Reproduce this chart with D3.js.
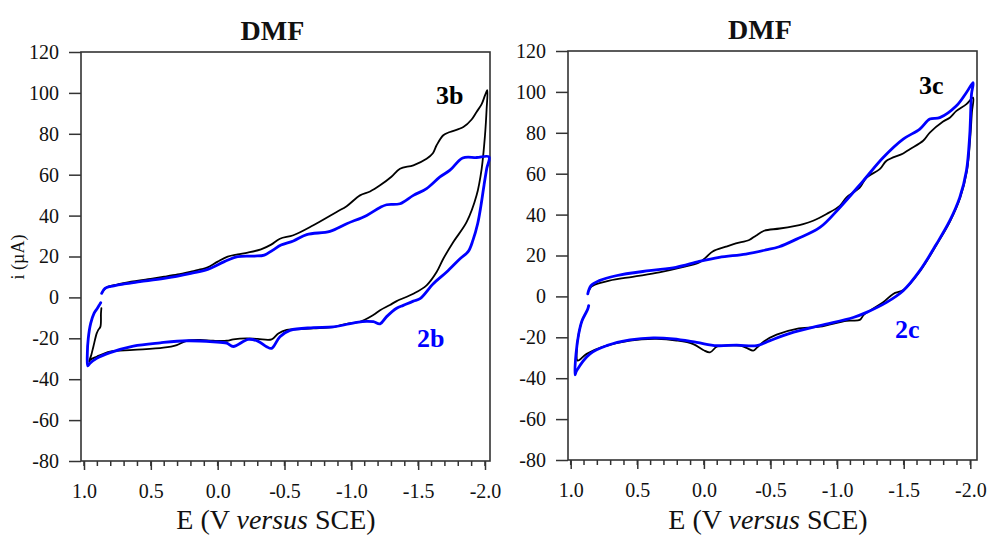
<!DOCTYPE html>
<html>
<head>
<meta charset="utf-8">
<script src="https://cdn.jsdelivr.net/npm/d3@7"></script>
<style>
  html, body { margin: 0; padding: 0; background: #fff; }
  svg { display: block; }
  text { font-family: "Liberation Serif", "Times New Roman", serif; fill: #111; }
</style>
</head>
<body>
<svg id="chart" width="987" height="536"></svg>
<script>
// Cyclic voltammograms in DMF: potential E (V vs SCE) and current i (µA)
// Each voltammogram: forward scan to -2.0 V, return scan, then the tail near +1.0 V.

const yTickValues = [120, 100, 80, 60, 40, 20, 0, -20, -40, -60, -80];
const xTickValues = [1.0, 0.5, 0.0, -0.5, -1.0, -1.5, -2.0];
const xTickLabels = ["1.0", "0.5", "0.0", "-0.5", "-1.0", "-1.5", "-2.0"];

// Left panel, compound 3b (black)
const cv3b = [
  [0.862, 2.6], [0.84, 4.4], [0.823, 5.2], [0.75, 6.3], [0.648, 7.7], [0.52, 8.9], [0.40, 10.1],
  [0.30, 11.2], [0.20, 12.6], [0.12, 13.8], [0.075, 14.7], [0.0, 17.5], [-0.075, 19.9], [-0.15, 21.0],
  [-0.225, 21.9], [-0.324, 23.5], [-0.40, 25.8], [-0.466, 28.7], [-0.566, 30.4], [-0.716, 35.3],
  [-0.89, 41.8], [-0.965, 44.6], [-1.065, 49.9], [-1.14, 51.8], [-1.215, 54.8], [-1.30, 59.0],
  [-1.364, 62.9], [-1.464, 64.6], [-1.563, 67.8], [-1.61, 70.5], [-1.638, 74.4], [-1.688, 79.3],
  [-1.738, 80.9], [-1.838, 83.3], [-1.90, 87.0], [-1.937, 90.7], [-1.975, 94.5], [-2.0, 98.8], [-2.017, 101.3],
  [-2.012, 92.0], [-2.0, 79.3], [-1.975, 62.9], [-1.937, 49.9], [-1.863, 36.9], [-1.763, 27.1],
  [-1.688, 18.9], [-1.638, 12.4], [-1.563, 5.9], [-1.464, 1.8], [-1.339, -1.8], [-1.289, -3.7],
  [-1.215, -6.3], [-1.164, -8.6], [-1.065, -11.9], [-0.965, -12.9], [-0.865, -14.5], [-0.716, -15.1],
  [-0.566, -15.6], [-0.516, -15.9], [-0.454, -17.6], [-0.404, -20.5], [-0.30, -20.3], [-0.217, -20.0],
  [-0.117, -20.5], [-0.068, -21.2], [0.033, -21.2], [0.132, -20.8], [0.232, -21.2], [0.306, -23.3],
  [0.406, -24.6], [0.631, -25.7], [0.805, -26.5], [0.905, -29.0], [0.955, -30.6], [0.962, -31.4],
  [0.945, -28.0], [0.93, -24.1], [0.905, -17.6], [0.893, -15.9], [0.877, -14.3], [0.873, -7.8], [0.87, -5.3]
];

// Left panel, compound 2b (blue)
const cv2b = [
  [0.868, 2.0], [0.843, 4.4], [0.80, 5.4], [0.70, 6.6], [0.581, 7.7], [0.40, 9.3], [0.20, 11.8],
  [0.075, 13.7], [-0.05, 17.5], [-0.15, 19.9], [-0.274, 20.2], [-0.349, 20.7], [-0.41, 23.0],
  [-0.474, 25.6], [-0.566, 27.6], [-0.666, 30.7], [-0.84, 32.3], [-0.965, 36.0], [-1.115, 40.1],
  [-1.215, 44.0], [-1.264, 45.3], [-1.364, 45.8], [-1.464, 49.9], [-1.563, 53.2], [-1.663, 58.9],
  [-1.738, 62.2], [-1.833, 68.2], [-1.937, 68.4], [-2.03, 68.7],
  [-2.013, 63.0], [-1.993, 55.0], [-1.97, 45.0], [-1.945, 36.0], [-1.91, 28.0], [-1.875, 22.5],
  [-1.813, 18.9], [-1.713, 12.4], [-1.613, 6.7], [-1.514, -0.6], [-1.464, -1.8], [-1.389, -3.9],
  [-1.339, -5.3], [-1.264, -9.4], [-1.215, -12.9], [-1.165, -11.9], [-1.115, -11.7], [-1.04, -12.2],
  [-0.865, -14.4], [-0.716, -14.8], [-0.541, -16.1], [-0.466, -19.2], [-0.404, -24.9], [-0.366, -24.1],
  [-0.304, -21.5], [-0.229, -20.5], [-0.117, -24.0], [-0.068, -22.4], [0.033, -21.7], [0.232, -21.2],
  [0.43, -22.2], [0.631, -23.8], [0.805, -27.0], [0.905, -29.8], [0.955, -32.2], [0.972, -33.5],
  [0.975, -27.3], [0.968, -20.0], [0.95, -12.7], [0.925, -7.8], [0.90, -5.3], [0.885, -3.7], [0.875, -2.6]
];

// Right panel, compound 3c (black)
const cv3c = [
  [0.862, 3.0], [0.845, 4.8], [0.823, 5.6], [0.71, 7.7], [0.535, 9.6], [0.335, 11.7], [0.185, 13.9],
  [0.035, 16.6], [-0.015, 19.1], [-0.066, 22.0], [-0.165, 24.3], [-0.24, 25.9], [-0.34, 27.6],
  [-0.39, 29.7], [-0.453, 32.1], [-0.57, 33.2], [-0.745, 35.4], [-0.82, 37.0], [-0.921, 40.3],
  [-1.02, 44.3], [-1.071, 48.4], [-1.17, 53.2], [-1.221, 58.1], [-1.32, 62.2], [-1.371, 66.3],
  [-1.496, 69.9], [-1.546, 72.0], [-1.646, 76.1], [-1.696, 80.1], [-1.796, 85.5], [-1.846, 87.4],
  [-1.896, 90.7], [-1.971, 94.0], [-2.021, 97.2],
  [-2.012, 90.0], [-2.0, 78.0], [-1.975, 61.4], [-1.925, 48.4], [-1.85, 37.0], [-1.75, 25.6],
  [-1.625, 12.6], [-1.5, 3.2], [-1.421, 1.2], [-1.346, -2.9], [-1.246, -7.0], [-1.2, -9.0],
  [-1.17, -11.5], [-1.071, -11.9], [-0.871, -14.8], [-0.696, -15.9], [-0.546, -18.7], [-0.45, -22.0],
  [-0.396, -25.2], [-0.37, -26.5], [-0.32, -25.2], [-0.27, -24.1], [-0.145, -24.1], [-0.096, -24.6],
  [-0.045, -27.4], [0.005, -26.2], [0.08, -23.3], [0.205, -21.6], [0.355, -20.8], [0.555, -21.6],
  [0.755, -24.6], [0.88, -28.1], [0.948, -31.4],
  [0.953, -24.9], [0.94, -18.4], [0.915, -11.9], [0.885, -8.0]
];

// Right panel, compound 2c (blue)
const cv2c = [
  [0.872, 1.2], [0.848, 5.2], [0.785, 7.7], [0.66, 10.1], [0.41, 12.6], [0.21, 14.2], [0.035, 17.1],
  [-0.115, 19.1], [-0.315, 20.7], [-0.465, 22.7], [-0.565, 24.3], [-0.696, 28.0], [-0.871, 33.7],
  [-1.021, 43.5], [-1.196, 56.5], [-1.346, 67.9], [-1.496, 76.9], [-1.621, 81.8], [-1.696, 86.7],
  [-1.771, 87.4], [-1.896, 93.2], [-1.971, 99.7], [-2.021, 104.5],
  [-2.009, 98.9], [-1.996, 79.3], [-1.971, 61.4], [-1.921, 48.4], [-1.846, 37.0], [-1.746, 25.6],
  [-1.621, 12.6], [-1.496, 2.8], [-1.371, -2.9], [-1.221, -7.8], [-1.121, -10.3], [-0.871, -14.3],
  [-0.646, -18.1], [-0.496, -21.6], [-0.396, -24.1], [-0.246, -23.8], [-0.096, -24.1], [0.054, -22.5],
  [0.23, -20.8], [0.38, -20.3], [0.555, -21.3], [0.73, -24.1], [0.855, -28.1], [0.955, -36.3], [0.968, -38.3],
  [0.96, -28.1], [0.94, -18.4], [0.915, -11.9], [0.89, -8.6], [0.872, -6.2], [0.865, -4.5]
];

const panels = [
  { frame: { l: 81, r: 490, t: 52, b: 461 }, xRange: [84, 485], title: { x: 272.5, y: 40 },
    xLabel: { x: 276, y: 529 }, yLabel: true,
    series: [
      { data: cv3b, color: "#000000", width: 1.8, label: "3b", lx: 436, ly: 103.5 },
      { data: cv2b, color: "#0000ff", width: 2.8, label: "2b", lx: 417, ly: 347 }
    ] },
  { frame: { l: 568, r: 977, t: 51, b: 460 }, xRange: [570.7, 970.3], title: { x: 760, y: 39 },
    xLabel: { x: 768, y: 529 }, yLabel: false,
    series: [
      { data: cv3c, color: "#000000", width: 1.8, label: "3c", lx: 919, ly: 94 },
      { data: cv2c, color: "#0000ff", width: 2.8, label: "2c", lx: 895, ly: 338 }
    ] }
];

const svg = d3.select("#chart");
const axisColor = "#333";

panels.forEach(p => {
  const f = p.frame;
  const x = d3.scaleLinear().domain([1.0, -2.0]).range(p.xRange);
  const y = d3.scaleLinear().domain([-80, 120]).range([f.b, f.t]);
  const g = svg.append("g");

  // y axis
  const yAxis = g.append("g")
    .attr("transform", `translate(${f.l},0)`)
    .call(d3.axisLeft(y).tickValues(yTickValues).tickSize(12).tickPadding(10)
      .tickFormat(d => String(d).replace("\u2212", "-")));
  yAxis.select(".domain").remove();
  yAxis.selectAll("line").attr("stroke", axisColor).attr("stroke-width", 1.5);
  yAxis.selectAll("text").style("font-size", "20px")
    .style("font-family", '"Liberation Serif", "Times New Roman", serif').attr("fill", "#111");

  // x axis: minor ticks every 0.1 V, labelled major ticks every 0.5 V
  const minor = d3.range(-20, 11).map(k => k / 10);
  g.append("g").selectAll("line").data(minor).join("line")
    .attr("x1", d => x(d)).attr("x2", d => x(d))
    .attr("y1", f.b).attr("y2", f.b + 5)
    .attr("stroke", axisColor).attr("stroke-width", 1.5);
  const xAxis = g.append("g")
    .attr("transform", `translate(0,${f.b})`)
    .call(d3.axisBottom(x).tickValues(xTickValues).tickSize(9).tickPadding(14)
      .tickFormat((d, i) => xTickLabels[i]));
  xAxis.select(".domain").remove();
  xAxis.selectAll("line").attr("stroke", axisColor).attr("stroke-width", 1.5);
  xAxis.selectAll("text").style("font-size", "20px")
    .style("font-family", '"Liberation Serif", "Times New Roman", serif').attr("fill", "#111");

  // frame
  g.append("rect")
    .attr("x", f.l).attr("y", f.t).attr("width", f.r - f.l).attr("height", f.b - f.t)
    .attr("fill", "none").attr("stroke", axisColor).attr("stroke-width", 1.6);

  // voltammograms
  const line = d3.line().x(d => x(d[0])).y(d => y(d[1])).curve(d3.curveCatmullRom.alpha(0.5));
  p.series.forEach(s => {
    g.append("path").datum(s.data)
      .attr("d", line)
      .attr("fill", "none")
      .attr("stroke", s.color)
      .attr("stroke-width", s.width)
      .attr("stroke-linejoin", "round")
      .attr("stroke-linecap", "round");
  });
  p.series.forEach(s => {
    g.append("text")
      .attr("x", s.lx).attr("y", s.ly)
      .style("font-size", "26px").style("font-weight", "bold")
      .attr("fill", s.color).style("fill", s.color)
      .text(s.label);
  });

  // title
  g.append("text")
    .attr("x", p.title.x).attr("y", p.title.y)
    .attr("text-anchor", "middle")
    .style("font-size", "28px").style("font-weight", "bold")
    .text("DMF");

  // x label
  const xl = g.append("text")
    .attr("x", p.xLabel.x).attr("y", p.xLabel.y)
    .attr("text-anchor", "middle")
    .style("font-size", "28px");
  xl.append("tspan").text("E (V ");
  xl.append("tspan").style("font-style", "italic").text("versus");
  xl.append("tspan").text(" SCE)");

  if (p.yLabel) {
    g.append("text")
      .attr("transform", "translate(24,257) rotate(-90)")
      .attr("text-anchor", "middle")
      .style("font-size", "18px")
      .text("i (\u00b5A)");
  }
});
</script>
</body>
</html>
